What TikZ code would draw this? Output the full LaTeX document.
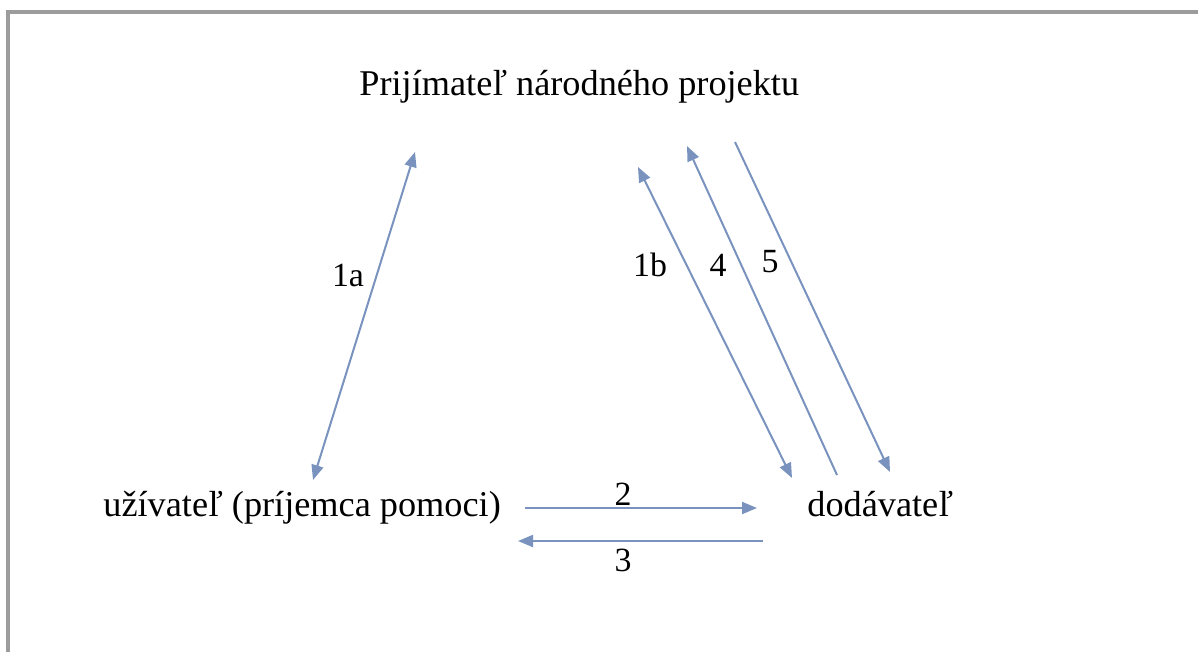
\documentclass[tikz,border=0pt]{standalone}
\usepackage{fontspec}
\setmainfont{Liberation Serif}
\usepackage{tikz}
\usetikzlibrary{arrows.meta,positioning}
\usepackage{xcolor}
\definecolor{flowblue}{HTML}{7A93BE}
\definecolor{framegray}{HTML}{9C9C9C}

\begin{document}
\begin{tikzpicture}[x=0.5bp,y=-0.5bp,
  party/.style={anchor=base west, inner sep=0pt, font=\fontsize{18.2}{22}\selectfont},
  numlabel/.style={inner sep=1pt, font=\fontsize{17}{20}\selectfont},
  flow/.style={draw=flowblue, line width=1bp, -{Triangle[length=7.5bp,width=6bp]}},
  bothflow/.style={flow, {Triangle[length=7.5bp,width=6bp]}-{Triangle[length=7.5bp,width=6bp]}}]
\useasboundingbox (0,0) rectangle (1198,652);
% frame (top and left edge only)
\draw[framegray, line width=2.2bp] (1198,12) -- (8,12) -- (8,652);

% parties
\node[party] (prij) at (359,96) {Prijímateľ národného projektu};
\node[party] (uziv) at (103,516) {užívateľ (príjemca pomoci)};
\node[party] (doda) at (807,516) {dodávateľ};

% arrow ends
\coordinate (aTop) at (415,152);  \coordinate (aBot) at (313,480);
\coordinate (bTop) at (638,167);  \coordinate (bBot) at (792,478);
\coordinate (cTop) at (687,146);  \coordinate (cBot) at (837,475);
\coordinate (dTop) at (735,142);  \coordinate (dBot) at (890,472);
\coordinate (eL) at (525,508);    \coordinate (eR) at (757,508);
\coordinate (fR) at (763,541);    \coordinate (fL) at (518,541);

\draw[bothflow] (aBot) -- (aTop);
\draw[bothflow] (bBot) -- (bTop);
\draw[flow] (cBot) -- (cTop);
\draw[flow] (dTop) -- (dBot);
\draw[flow] (eL) -- (eR);
\draw[flow] (fR) -- (fL);

% numbers
\node[numlabel] (n1a) at (348,275) {1a};
\node[numlabel] (n1b) at (650,265) {1b};
\node[numlabel] (n4) at (718,265) {4};
\node[numlabel] (n5) at (770,262) {5};
\node[numlabel] (n2) at (623,494) {2};
\node[numlabel] (n3) at (623,560) {3};
\end{tikzpicture}
\end{document}
